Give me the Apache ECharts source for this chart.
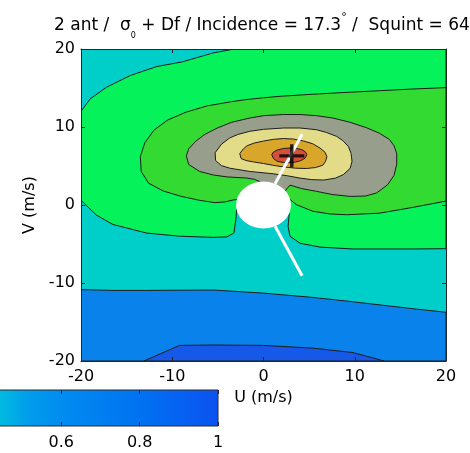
<!DOCTYPE html>
<html>
<head>
<meta charset="utf-8">
<script src="https://cdn.jsdelivr.net/npm/echarts@6/dist/echarts.min.js"></script>
<style>
  html, body { margin: 0; padding: 0; background: #fff; }
  #chart { width: 470px; height: 453px; }
</style>
</head>
<body>
<div id="chart"></div>
<script>
// ---- Axis ticks ----
const uTicks = [-20, -10, 0, 10, 20];
const vTicks = [-20, -10, 0, 10, 20];
const colorbarTicks = [0, 0.2, 0.4, 0.6, 0.8, 1];

// ---- Filled contour bands, outermost first: closed polygons in (U, V) m/s ----
const bandCyan = [[-20, -20], [20, -20], [20, 20], [-20, 20]];

const bandBrightGreen = [
  [-3.2, 20], [20, 20], [20, -5.6],
  [16.4, -5.64], [9.8, -5.64], [6.2, -5.4], [4.0, -4.9], [2.9, -4.0], [2.7, -2.75], [2.82, -1.1],
  [0, 0],
  [-2.95, -0.6], [-3.03, -1.9], [-3.25, -3.6], [-4.05, -4.1], [-5.5, -4.15], [-9.2, -4.0],
  [-12.8, -3.6], [-16.5, -2.5], [-18.3, -1.3], [-20, 0.6],
  [-20, 12.0], [-19.0, 13.6], [-17.2, 15.1], [-14.6, 16.6], [-11.7, 17.75], [-8.9, 18.35], [-5.5, 19.5]
];

const bandGreen = [
  [20, 15.05], [16, 14.85], [12.7, 14.65], [8.5, 14.4], [5.4, 14.2], [2, 13.95], [0, 13.75],
  [-2, 13.5], [-3.5, 13.25], [-6.2, 12.7], [-8.5, 11.9], [-10.5, 10.9], [-12.0, 9.6], [-13.0, 8.0],
  [-13.5, 6.2], [-13.4, 4.3], [-12.6, 2.8], [-11.0, 1.8], [-9.0, 1.1], [-7.0, 0.6], [-5.3, 0.3],
  [-4.2, 0.4], [-3.3, 0.65], [-2.95, 0.7],
  [0, 0],
  [2.92, 0.68], [3.6, 0.05], [5.4, -0.8], [7.3, -1.15], [9.1, -1.25], [12.7, -1.05], [16.4, -0.3], [20, 0.5]
];

const bandGray = [
  [2.2, 11.6], [0, 11.45], [-1.5, 11.15], [-3.5, 10.6], [-5.1, 9.85], [-6.5, 9.0], [-7.4, 8.2],
  [-8.2, 7.2], [-8.45, 6.3], [-8.2, 5.2], [-7.0, 4.3], [-5.5, 3.85], [-4.0, 3.6], [-1.9, 3.46],
  [-1.0, 3.3], [-0.4, 3.0], [0, 1.5], [2.0, 1.5], [2.4, 1.85], [2.9, 2.55], [4.2, 2.1], [5.8, 1.75],
  [7.5, 1.35], [9.5, 1.1], [11.2, 1.15], [12.4, 1.55], [13.6, 2.6], [14.3, 3.8], [14.6, 5.2],
  [14.6, 6.6], [14.3, 7.6], [13.8, 8.4], [12.7, 9.2], [11.3, 9.9], [9.5, 10.6], [7.6, 11.15],
  [5.8, 11.45], [4.0, 11.6]
];

const bandYellow = [
  [2.2, 9.87], [0, 9.7], [-1.5, 9.45], [-2.8, 9.05], [-3.7, 8.6], [-4.6, 7.8], [-5.3, 6.7],
  [-5.25, 5.7], [-4.6, 5.05], [-3.7, 4.72], [-1.5, 4.3], [1.1, 4.0], [2.6, 3.75], [4.0, 3.45],
  [5.3, 3.25], [6.6, 3.2], [7.9, 3.45], [8.75, 3.9], [9.5, 4.7], [9.7, 5.6], [9.6, 6.6], [9.3, 7.5],
  [8.7, 8.25], [8.0, 8.8], [6.9, 9.3], [5.8, 9.65], [4.0, 9.87]
];

const bandOrange = [
  [-2.6, 6.6], [-2.2, 7.2], [-1.8, 7.6], [-1.0, 7.95], [0, 8.2], [1.1, 8.42], [2.2, 8.52],
  [3.3, 8.45], [4.4, 8.2], [5.4, 7.85], [6.2, 7.3], [6.75, 6.75], [6.95, 6.2], [6.8, 5.6],
  [6.5, 5.1], [5.7, 4.8], [4.7, 4.68], [3.5, 4.72], [2.2, 4.88], [1.0, 5.1], [0, 5.32],
  [-1.0, 5.5], [-1.9, 5.7], [-2.45, 5.95]
];

const bandRed = [
  [0.9, 6.45], [1.1, 6.8], [1.5, 7.05], [2.2, 7.25], [2.9, 7.3], [3.6, 7.25], [4.2, 7.1],
  [4.6, 6.8], [4.75, 6.45], [4.55, 6.0], [4.1, 5.7], [3.5, 5.5], [2.9, 5.42], [2.2, 5.45],
  [1.5, 5.6], [1.1, 5.95]
];

const bandBlue = [
  [-20, -10.85], [-16.5, -10.95], [-12.8, -10.95], [-5.5, -10.9], [0, -11.3], [5.4, -11.85],
  [9, -12.3], [12.7, -12.8], [16.4, -13.3], [20, -13.75], [20, -20], [-20, -20]
];

const bandDarkBlue = [
  [-13.1, -20], [-9.2, -18.0], [-5.5, -17.95], [0, -18.0], [5.4, -18.35], [9.7, -18.9],
  [12.0, -19.6], [13.2, -20]
];

// Blanked-out region around the origin (radius in m/s)
const maskRadius = 3;
// Antenna look directions: [u0, v0, u1, v1]
const antennaBeams = [
  [1.27, 2.72, 4.23, 9.06],
  [1.27, -2.72, 4.23, -9.06]
];
// Location of the cost-function minimum
const minimumPoint = [[3.1, 6.3]];

// ---- Styling ----
const FONT = 'DejaVu Sans';
const bandStyles = [
  { data: bandCyan,        fill: '#00CEC9', stroke: null },
  { data: bandBrightGreen, fill: '#06F25A', stroke: '#1c1c1c' },
  { data: bandGreen,       fill: '#32DA32', stroke: '#1c1c1c' },
  { data: bandGray,        fill: '#979F8C', stroke: '#1c1c1c' },
  { data: bandYellow,      fill: '#E2DC88', stroke: '#1c1c1c' },
  { data: bandOrange,      fill: '#D8A62A', stroke: '#1c1c1c' },
  { data: bandRed,         fill: '#D3503C', stroke: '#1c1c1c' },
  { data: bandBlue,        fill: '#0A82EC', stroke: '#1c1c1c' },
  { data: bandDarkBlue,    fill: '#1658E8', stroke: '#1c1c1c' }
];

const colorbarGradient = [
  { offset: 0.00, color: '#00E0C0' },
  { offset: 0.40, color: '#00C8DA' },
  { offset: 0.44, color: '#00BCE0' },
  { offset: 0.52, color: '#009CEC' },
  { offset: 0.60, color: '#008CF0' },
  { offset: 0.80, color: '#0072F2' },
  { offset: 1.00, color: '#0C52F0' }
];

function bandSeries(band) {
  return {
    type: 'custom',
    xAxisIndex: 0, yAxisIndex: 0,
    silent: true, clip: true,
    data: band.data,
    renderItem: function (params, api) {
      if (params.dataIndex !== 0) return null;
      const points = band.data.map(p => api.coord(p));
      return {
        type: 'polygon',
        shape: { points: points },
        style: {
          fill: band.fill,
          stroke: band.stroke || null,
          lineWidth: band.stroke ? 1 : 0
        }
      };
    }
  };
}

const series = bandStyles.map(bandSeries);

// White disc over the blanked region
series.push({
  type: 'custom', xAxisIndex: 0, yAxisIndex: 0, silent: true, clip: true,
  data: [[0, 0, maskRadius]],
  renderItem: function (params, api) {
    const r = api.value(2);
    const pts = [];
    for (let i = 0; i < 96; i++) {
      const a = (i / 96) * Math.PI * 2;
      pts.push(api.coord([api.value(0) + r * Math.cos(a), api.value(1) + r * Math.sin(a)]));
    }
    return { type: 'polygon', shape: { points: pts }, style: { fill: '#ffffff', stroke: null } };
  }
});

// Antenna look-direction lines
series.push({
  type: 'custom', xAxisIndex: 0, yAxisIndex: 0, silent: true, clip: true,
  data: antennaBeams,
  renderItem: function (params, api) {
    const a = api.coord([api.value(0), api.value(1)]);
    const b = api.coord([api.value(2), api.value(3)]);
    return {
      type: 'line',
      shape: { x1: a[0], y1: a[1], x2: b[0], y2: b[1] },
      style: { stroke: '#ffffff', lineWidth: 3 }
    };
  }
});

// Minimum marker (+)
series.push({
  type: 'scatter', xAxisIndex: 0, yAxisIndex: 0, silent: true,
  data: minimumPoint,
  symbol: 'path://M0,8.6H20V11.4H0ZM8.6,0H11.4V20H8.6Z',
  symbolSize: [25, 23],
  itemStyle: { color: '#000000' }
});

// Colorbar strip
series.push({
  type: 'custom', xAxisIndex: 2, yAxisIndex: 2, silent: true, clip: false,
  data: [[0, 0, 1, 1]],
  renderItem: function (params, api) {
    const p0 = api.coord([api.value(0), api.value(3)]);
    const p1 = api.coord([api.value(2), api.value(1)]);
    return {
      type: 'rect',
      shape: { x: p0[0], y: p0[1], width: p1[0] - p0[0], height: p1[1] - p0[1] },
      style: {
        fill: new echarts.graphic.LinearGradient(0, 0, 1, 0, colorbarGradient),
        stroke: '#2a2a2a', lineWidth: 1
      }
    };
  }
});

const tickLabel = { fontFamily: FONT, fontSize: 16, color: '#000' };

function mainAxis(pos, ticks, extra) {
  return Object.assign({
    type: 'value', gridIndex: 0, position: pos,
    min: ticks[0], max: ticks[ticks.length - 1], interval: 10,
    z: 10,
    axisLine: { show: true, onZero: false, lineStyle: { color: '#262626', width: 1 } },
    axisTick: { show: true, inside: true, length: 4, lineStyle: { color: '#262626', width: 1 } },
    axisLabel: { show: false },
    splitLine: { show: false }
  }, extra || {});
}

const option = {
  backgroundColor: '#ffffff',
  animation: false,
  title: {
    text: '{a|2 ant /  σ}{s|0}{a| + Df / Incidence = 17.3}{p|°}{a| /  Squint = 64}{p|°}',
    left: 49, top: 7,
    textStyle: {
      fontWeight: 'normal',
      rich: {
        a: { fontFamily: FONT, fontSize: 17, fontWeight: 'normal', color: '#000', lineHeight: 28 },
        s: { fontFamily: FONT, fontSize: 8, fontWeight: 'normal', color: '#000', lineHeight: 8, verticalAlign: 'bottom' },
        p: { fontFamily: FONT, fontSize: 11, fontWeight: 'normal', color: '#000', lineHeight: 18, verticalAlign: 'top' }
      }
    }
  },
  grid: [
    { left: 81, top: 49, width: 365, height: 312, containLabel: false, outerBoundsMode: 'none' },
    { left: -174, top: 390, width: 392, height: 36, containLabel: false, outerBoundsMode: 'none' }
  ],
  xAxis: [
    mainAxis('bottom', uTicks, {
      axisLabel: Object.assign({ show: true, margin: 8, showMinLabel: true, showMaxLabel: true }, tickLabel),
      name: 'U (m/s)', nameLocation: 'middle', nameGap: 29,
      nameTextStyle: { fontFamily: FONT, fontSize: 16, color: '#000' }
    }),
    mainAxis('top', uTicks),
    {
      type: 'value', gridIndex: 1, position: 'bottom',
      min: colorbarTicks[0], max: colorbarTicks[colorbarTicks.length - 1], interval: 0.2, z: 10,
      axisLine: { show: false },
      axisTick: { show: true, inside: true, length: 4, lineStyle: { color: '#262626', width: 1 } },
      axisLabel: Object.assign({ show: true, margin: 9, showMinLabel: true, showMaxLabel: true,
        formatter: v => String(Math.round(v * 10) / 10) }, tickLabel),
      splitLine: { show: false }
    },
    {
      type: 'value', gridIndex: 1, position: 'top',
      min: colorbarTicks[0], max: colorbarTicks[colorbarTicks.length - 1], interval: 0.2, z: 10,
      axisLine: { show: false },
      axisTick: { show: true, inside: true, length: 4, lineStyle: { color: '#262626', width: 1 } },
      axisLabel: { show: false },
      splitLine: { show: false }
    }
  ],
  yAxis: [
    mainAxis('left', vTicks, {
      axisLabel: Object.assign({ show: true, margin: 6, showMinLabel: true, showMaxLabel: true }, tickLabel),
      name: 'V (m/s)', nameLocation: 'middle', nameGap: 42,
      nameTextStyle: { fontFamily: FONT, fontSize: 16, color: '#000' }
    }),
    mainAxis('right', vTicks),
    {
      type: 'value', gridIndex: 1, min: 0, max: 1, show: false
    }
  ],
  series: series
};

const chart = echarts.init(document.getElementById('chart'), null, { renderer: 'canvas' });
chart.setOption(option);
</script>
</body>
</html>
